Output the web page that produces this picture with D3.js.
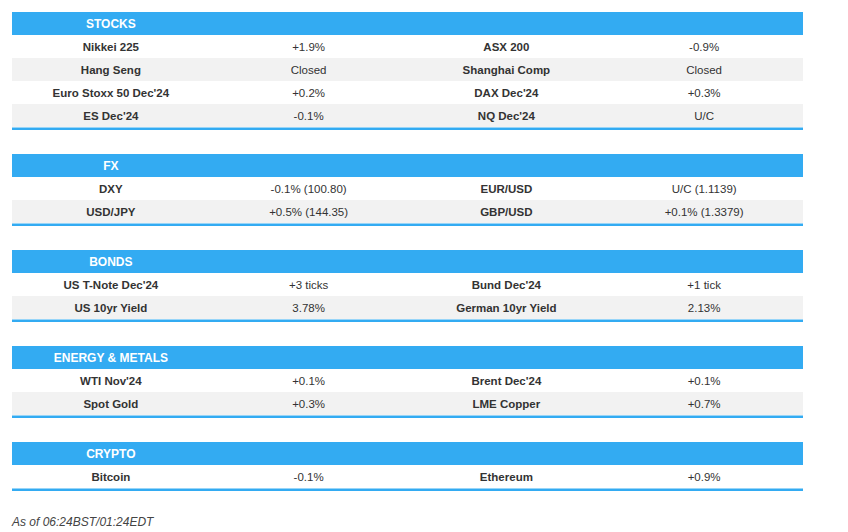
<!DOCTYPE html>
<html><head><meta charset="utf-8">
<script src="https://cdn.jsdelivr.net/npm/d3@7"></script>
<style>
body{margin:0;background:#fff;font-family:"Liberation Sans",Arial,sans-serif;}
</style></head>
<body><svg id="canvas" width="848" height="532"></svg>
<script>
const sections = ["STOCKS","FX","BONDS","ENERGY & METALS","CRYPTO"];
const names1 = [
  ["Nikkei 225","Hang Seng","Euro Stoxx 50 Dec'24","ES Dec'24"],
  ["DXY","USD/JPY"],
  ["US T-Note Dec'24","US 10yr Yield"],
  ["WTI Nov'24","Spot Gold"],
  ["Bitcoin"]
];
const values1 = [
  ["+1.9%","Closed","+0.2%","-0.1%"],
  ["-0.1% (100.80)","+0.5% (144.35)"],
  ["+3 ticks","3.78%"],
  ["+0.1%","+0.3%"],
  ["-0.1%"]
];
const names2 = [
  ["ASX 200","Shanghai Comp","DAX Dec'24","NQ Dec'24"],
  ["EUR/USD","GBP/USD"],
  ["Bund Dec'24","German 10yr Yield"],
  ["Brent Dec'24","LME Copper"],
  ["Ethereum"]
];
const values2 = [
  ["-0.9%","Closed","+0.3%","U/C"],
  ["U/C (1.1139)","+0.1% (1.3379)"],
  ["+1 tick","2.13%"],
  ["+0.1%","+0.7%"],
  ["+0.9%"]
];
const footer = "As of 06:24BST/01:24EDT";

const svg = d3.select("#canvas");
const x = d3.scaleBand().domain([0,1,2,3]).range([12,803]);
const rowH = 23, headH = 23, gap = 24;
const blue = "#33abf2";

let y = 12;
sections.forEach((sec,si)=>{
  const g = svg.append("g");
  g.append("rect").attr("x",12).attr("y",y).attr("width",791).attr("height",headH).attr("fill",blue);
  g.append("text").attr("x",x(0)+x.bandwidth()/2).attr("y",y+headH/2+4.5)
    .attr("text-anchor","middle").attr("fill","#fff").attr("font-weight","bold").attr("font-size",12)
    .text(sec);
  y += headH;
  names1[si].forEach((n,ri)=>{
    if(ri%2===1) g.append("rect").attr("x",12).attr("y",y).attr("width",791).attr("height",rowH).attr("fill","#f2f2f2");
    const cells = [n, values1[si][ri], names2[si][ri], values2[si][ri]];
    cells.forEach((c,ci)=>{
      g.append("text").attr("x",x(ci)+x.bandwidth()/2).attr("y",y+rowH/2+4.5)
        .attr("text-anchor","middle").attr("fill","#333").attr("font-size",11.5)
        .attr("font-weight",ci%2===0?"bold":"normal").text(c);
    });
    y += rowH;
  });
  g.append("rect").attr("x",12).attr("y",y+0.5).attr("width",791).attr("height",2.5).attr("fill",blue);
  y += 3 + gap;
});

svg.append("text").attr("x",12).attr("y",526).attr("fill","#444").attr("font-size",12)
  .attr("font-style","italic").text(footer);
</script></body></html>
